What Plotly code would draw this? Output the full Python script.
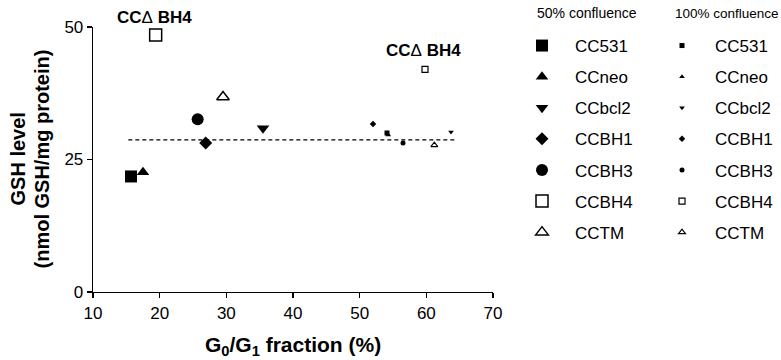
import plotly.graph_objects as go

# ---- data ----
cell_lines = ["CC531", "CCneo", "CCbcl2", "CCBH1", "CCBH3", "CCBH4", "CCTM"]
symbols = ["square", "triangle-up", "triangle-down", "diamond", "circle", "square-open", "triangle-up-open"]

g0g1_50 = [15.7, 17.5, 35.5, 26.9, 25.7, 19.4, 29.5]
gsh_50 = [21.8, 22.6, 30.9, 28.1, 32.6, 48.5, 36.8]

g0g1_100 = [54.1, 54.3, 63.7, 52.0, 56.5, 59.8, 61.2]
gsh_100 = [30.0, 29.6, 30.2, 31.7, 28.1, 42.0, 27.7]

ref_level = 28.7
ref_span = [15.3, 64.3]

x_ticks = [10, 20, 30, 40, 50, 60, 70]
y_ticks = [0, 25, 50]

W, H = 781, 360
FONT = "Arial, 'Liberation Sans', Helvetica, sans-serif"

size50 = {"square": 12, "triangle-up": 11, "triangle-down": 11, "diamond": 10,
          "circle": 12, "square-open": 12, "triangle-up-open": 11}
size100 = {"square": 5, "triangle-up": 5, "triangle-down": 5, "diamond": 5,
           "circle": 5, "square-open": 6, "triangle-up-open": 6}

fig = go.Figure()

# reference dashed line
fig.add_trace(go.Scatter(x=ref_span, y=[ref_level, ref_level], mode="lines",
                         line=dict(color="black", width=1.3, dash="4px,3px"),
                         showlegend=False, hoverinfo="skip"))

for i, name in enumerate(cell_lines):
    sym = symbols[i]
    is_open = sym.endswith("open")
    fig.add_trace(go.Scatter(
        x=[g0g1_50[i]], y=[gsh_50[i]], mode="markers", name=name,
        legend="legend", legendgroup="a" + name,
        marker=dict(symbol=sym, size=size50[sym], color="black",
                    line=dict(color="black", width=1.5 if is_open else 0)),
        cliponaxis=False))

for i, name in enumerate(cell_lines):
    sym = symbols[i]
    is_open = sym.endswith("open")
    fig.add_trace(go.Scatter(
        x=[g0g1_100[i]], y=[gsh_100[i]], mode="markers", name=name,
        legend="legend2", legendgroup="b" + name,
        marker=dict(symbol=sym, size=size100[sym], color="black",
                    line=dict(color="black", width=1.2 if is_open else 0)),
        cliponaxis=False))

L, R, T, B = 93, 288, 27, 68

axis_common = dict(showline=True, linecolor="black", linewidth=1.3, ticks="outside",
                   ticklen=5, tickwidth=1.3, tickcolor="black", showgrid=False,
                   zeroline=False, tickfont=dict(family=FONT, size=17, color="black"))

legend_common = dict(xref="container", yref="container", xanchor="left", yanchor="top",
                     font=dict(family=FONT, size=17, color="black"), itemwidth=56,
                     tracegroupgap=6, bgcolor="rgba(0,0,0,0)", itemclick=False,
                     itemdoubleclick=False, maxheight=360)

fig.update_layout(
    width=W, height=H, margin=dict(l=L, r=R, t=T, b=B, autoexpand=False),
    paper_bgcolor="white", plot_bgcolor="white",
    font=dict(family=FONT, color="black"),
    xaxis=dict(range=[10, 70], tickvals=x_ticks, **axis_common),
    yaxis=dict(range=[0, 50], tickvals=y_ticks, **axis_common),
    legend=dict(x=509 / W, y=1 - 28 / H, **legend_common),
    legend2=dict(x=649 / W, y=1 - 28 / H, **legend_common),
    showlegend=True,
    hovermode=False,
)

ann = []
# y-axis title (two lines)
ann.append(dict(text="<b>GSH level</b>", xref="paper", yref="paper", x=0, y=0.50,
                xshift=-76, textangle=-90, showarrow=False, xanchor="center", yanchor="middle",
                font=dict(family=FONT, size=20, color="black")))
ann.append(dict(text="<b>(nmol GSH/mg protein)</b>", xref="paper", yref="paper", x=0, y=0.50,
                xshift=-52, textangle=-90, showarrow=False, xanchor="center", yanchor="middle",
                font=dict(family=FONT, size=20, color="black")))
# x-axis title
ann.append(dict(text="<b>G<sub>0</sub>/G<sub>1</sub> fraction (%)</b>", xref="paper", yref="paper",
                x=0.5, y=-0.205, showarrow=False, xanchor="center", yanchor="middle",
                font=dict(family=FONT, size=21, color="black")))
# CCΔBH4 labels
bh4 = cell_lines.index("CCBH4")
ann.append(dict(text="<b>CC</b>Δ<b> BH4</b>", x=g0g1_50[bh4], y=gsh_50[bh4], xshift=-1, yshift=17,
                showarrow=False, font=dict(family=FONT, size=17, color="black")))
ann.append(dict(text="<b>CC</b>Δ<b> BH4</b>", x=g0g1_100[bh4], y=gsh_100[bh4], xshift=-2, yshift=19,
                showarrow=False, font=dict(family=FONT, size=17, color="black")))
# legend headers
ann.append(dict(text="50% confluence", xref="paper", yref="paper", x=(535 - L) / (W - L - R),
                y=(H - B - 13) / (H - T - B), xanchor="left", yanchor="middle", showarrow=False,
                font=dict(family=FONT, size=14, color="black")))
ann.append(dict(text="100% confluence", xref="paper", yref="paper", x=(673 - L) / (W - L - R),
                y=(H - B - 13) / (H - T - B), xanchor="left", yanchor="middle", showarrow=False,
                font=dict(family=FONT, size=13.5, color="black")))
fig.update_layout(annotations=ann)

fig.write_html("out.html", config={"displayModeBar": False, "staticPlot": True},
               post_script="document.body.style.margin='0';document.body.style.overflow='hidden';")
